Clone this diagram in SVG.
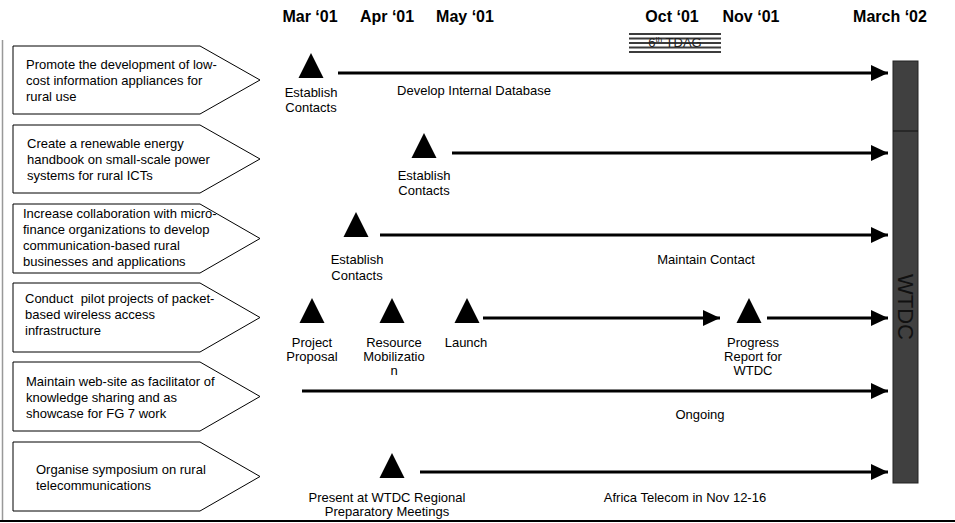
<svg xmlns="http://www.w3.org/2000/svg" width="955" height="523" viewBox="0 0 955 523">
<defs>
<marker id="ah" markerUnits="userSpaceOnUse" markerWidth="18" markerHeight="16" refX="17" refY="8" orient="auto">
<path d="M0,0 L17,8 L0,16 Z" fill="#000"/>
</marker>
</defs>
<style>
text{font-family:"Liberation Sans",Arial,sans-serif;fill:#000}
.hd{font-size:16px;font-weight:bold;text-anchor:middle}
.bx{font-size:13px;white-space:pre}
.lb{font-size:13px;text-anchor:middle}
.box{fill:#fff;stroke:#000;stroke-width:1}
.ms{fill:#000}
.arr{stroke:#000;stroke-width:3;fill:none;marker-end:url(#ah)}
</style>
<rect width="955" height="523" fill="#fff"/>
<line x1="2.5" y1="40" x2="2.5" y2="521" stroke="#999" stroke-width="1.5"/>
<line x1="0" y1="521" x2="955" y2="521" stroke="#000" stroke-width="2"/>

<g id="headers">
<text class="hd" x="310" y="22">Mar ‘01</text>
<text class="hd" x="387" y="22">Apr ‘01</text>
<text class="hd" x="465" y="22">May ‘01</text>
<text class="hd" x="672" y="22">Oct ‘01</text>
<text class="hd" x="751" y="22">Nov ‘01</text>
<text class="hd" x="890" y="22">March ‘02</text>
</g>

<g id="tdag">
<g stroke="#3c3c3c" stroke-width="2">
<line x1="629" y1="34" x2="721" y2="34"/>
<line x1="629" y1="38.5" x2="721" y2="38.5"/>
<line x1="629" y1="43" x2="721" y2="43"/>
<line x1="629" y1="47.5" x2="721" y2="47.5"/>
<line x1="629" y1="52" x2="721" y2="52"/>
</g>
<text x="675" y="47" style="font-size:13px;text-anchor:middle;fill:#222">6<tspan style="font-size:8px" dy="-5">th</tspan><tspan dy="5"> TDAG</tspan></text>
</g>

<g id="wtdc">
<rect x="893" y="61" width="25" height="422" fill="#404040" stroke="#222" stroke-width="1"/>
<line x1="893" y1="131" x2="918" y2="131" stroke="#111" stroke-width="1"/>
<text x="898" y="307" transform="rotate(90 898 307)" style="font-size:22px;text-anchor:middle;fill:#111">WTDC</text>
</g>

<g id="obj1">
<path class="box" d="M13,46 H200 L260,80 L200,114 H13 Z"/>
<text class="bx" x="26" y="69">Promote the development of low-</text>
<text class="bx" x="26" y="85">cost information appliances for</text>
<text class="bx" x="26" y="101">rural use</text>
</g>
<g id="obj2">
<path class="box" d="M13,125 H200 L260,159 L200,193 H13 Z"/>
<text class="bx" x="27" y="148">Create a renewable energy</text>
<text class="bx" x="27" y="164">handbook on small-scale power</text>
<text class="bx" x="27" y="180">systems for rural ICTs</text>
</g>
<g id="obj3">
<path class="box" d="M13,204 H200 L260,238.5 L200,273 H13 Z"/>
<text class="bx" x="23" y="218">Increase collaboration with micro-</text>
<text class="bx" x="23" y="234">finance organizations to develop</text>
<text class="bx" x="23" y="250">communication-based rural</text>
<text class="bx" x="23" y="266">businesses and applications</text>
</g>
<g id="obj4">
<path class="box" d="M13,283 H200 L260,317.5 L200,352 H13 Z"/>
<text class="bx" x="25" y="303">Conduct  pilot projects of packet-</text>
<text class="bx" x="25" y="319">based wireless access</text>
<text class="bx" x="25" y="335">infrastructure</text>
</g>
<g id="obj5">
<path class="box" d="M13,362 H200 L260,396.5 L200,431 H13 Z"/>
<text class="bx" x="26" y="386">Maintain web-site as facilitator of</text>
<text class="bx" x="26" y="402">knowledge sharing and as</text>
<text class="bx" x="26" y="418">showcase for FG 7 work</text>
</g>
<g id="obj6">
<path class="box" d="M13,442 H200 L260,476.5 L200,511 H13 Z"/>
<text class="bx" x="36" y="474">Organise symposium on rural</text>
<text class="bx" x="36" y="490">telecommunications</text>
</g>

<g id="milestones">
<path class="ms" d="M311,53 L323.5,78 L298.5,78 Z"/>
<text class="lb" x="311" y="97">Establish</text>
<text class="lb" x="311" y="112">Contacts</text>

<path class="ms" d="M424,133 L436.5,158 L411.5,158 Z"/>
<text class="lb" x="424" y="180">Establish</text>
<text class="lb" x="424" y="195">Contacts</text>

<path class="ms" d="M356,212 L368.5,237 L343.5,237 Z"/>
<text class="lb" x="357" y="264">Establish</text>
<text class="lb" x="357" y="280">Contacts</text>

<path class="ms" d="M312,298 L324.5,323 L299.5,323 Z"/>
<text class="lb" x="312" y="347">Project</text>
<text class="lb" x="312" y="361">Proposal</text>

<path class="ms" d="M392,298 L404.5,323 L379.5,323 Z"/>
<text class="lb" x="394" y="347">Resource</text>
<text class="lb" x="394" y="361">Mobilizatio</text>
<text class="lb" x="394" y="375">n</text>

<path class="ms" d="M467,298 L479.5,323 L454.5,323 Z"/>
<text class="lb" x="466" y="347">Launch</text>

<path class="ms" d="M749,298 L761.5,323 L736.5,323 Z"/>
<text class="lb" x="753" y="347">Progress</text>
<text class="lb" x="753" y="361">Report for</text>
<text class="lb" x="753" y="375">WTDC</text>

<path class="ms" d="M392,453 L404.5,478 L379.5,478 Z"/>
<text class="lb" x="387" y="502">Present at WTDC Regional</text>
<text class="lb" x="387" y="516">Preparatory Meetings</text>
</g>

<g id="connectors">
<line class="arr" x1="338" y1="73" x2="888" y2="73"/>
<line class="arr" x1="452" y1="153" x2="888" y2="153"/>
<line class="arr" x1="380" y1="235" x2="888" y2="235"/>
<line class="arr" x1="483" y1="318" x2="720" y2="318"/>
<line class="arr" x1="767" y1="318" x2="888" y2="318"/>
<line class="arr" x1="302" y1="391" x2="888" y2="391"/>
<line class="arr" x1="420" y1="472" x2="888" y2="472"/>
</g>

<g id="bar-labels">
<text class="lb" x="474" y="95">Develop Internal Database</text>
<text class="lb" x="706" y="264">Maintain Contact</text>
<text class="lb" x="700" y="419">Ongoing</text>
<text class="lb" x="685" y="502">Africa Telecom in Nov 12-16</text>
</g>
</svg>
